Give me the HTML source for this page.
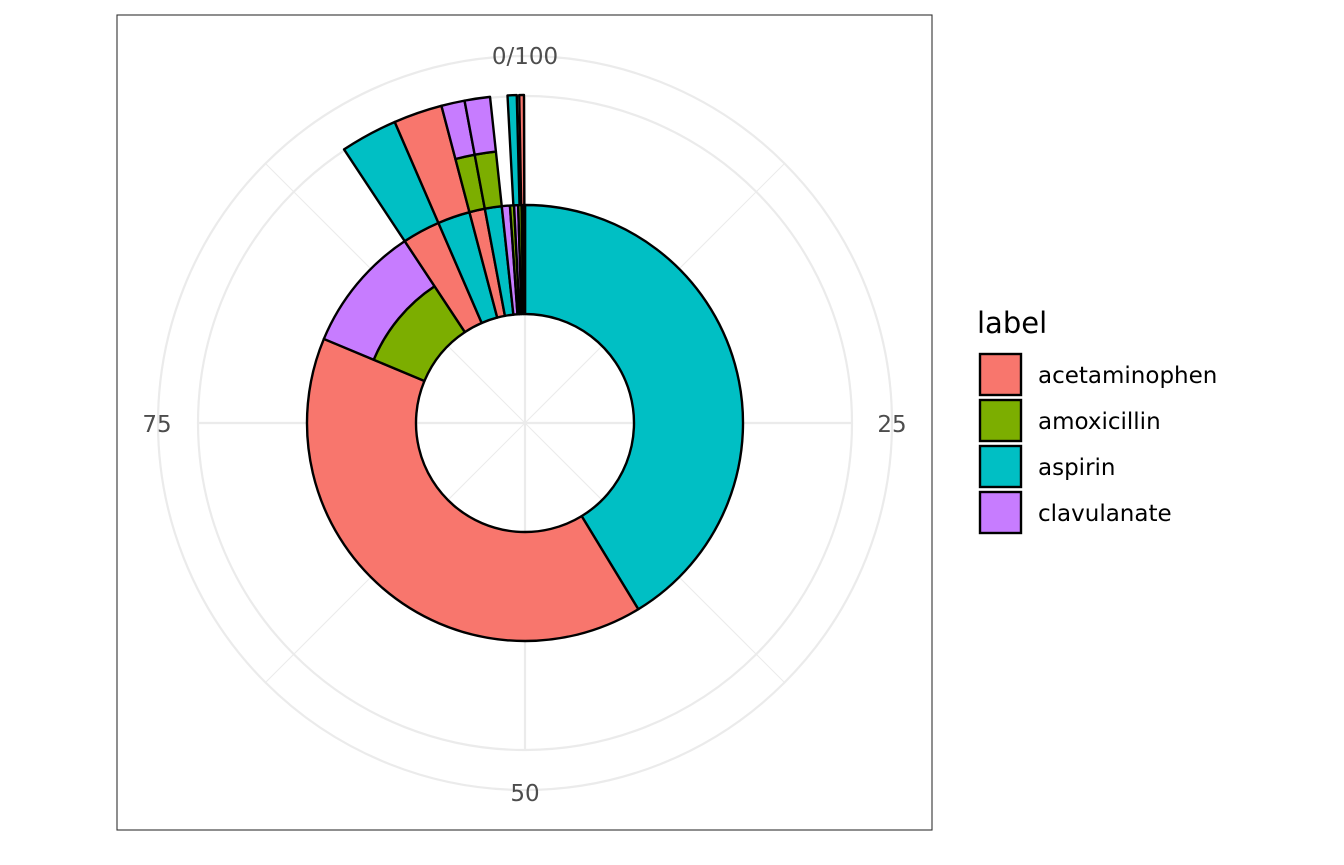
<!DOCTYPE html>
<html><head><meta charset="utf-8"><style>
html,body{margin:0;padding:0;background:#fff;}
svg{display:block;font-family:"DejaVu Sans","Liberation Sans",sans-serif;}
</style></head><body>
<svg id="s" width="1344" height="865" viewBox="0 0 1344 865" xmlns="http://www.w3.org/2000/svg">
<rect x="0" y="0" width="1344" height="865" fill="#fff"/>
<g id="grid" stroke="#ebebeb" fill="none"></g>
<g id="segs" stroke="#000" stroke-width="2.4" stroke-linejoin="round"></g>
<rect x="117" y="15" width="815" height="815" fill="none" stroke="#333" stroke-width="1.1"/>
<g font-size="23" fill="#4d4d4d" text-anchor="middle">
<text x="525" y="64">0/100</text>
<text x="892" y="432">25</text>
<text x="525" y="801">50</text>
<text x="157" y="432">75</text>
</g>
<text x="977" y="333" font-size="29" fill="#000">label</text>
<g stroke="#000" stroke-width="2.4">
<rect x="980" y="354" width="41" height="41" fill="#F8766D"/>
<rect x="980" y="400" width="41" height="41" fill="#7CAE00"/>
<rect x="980" y="446" width="41" height="41" fill="#00BFC4"/>
<rect x="980" y="492" width="41" height="41" fill="#C77CFF"/>
</g>
<g font-size="23" fill="#000">
<text x="1038" y="383">acetaminophen</text>
<text x="1038" y="429">amoxicillin</text>
<text x="1038" y="475">aspirin</text>
<text x="1038" y="521">clavulanate</text>
</g>
</svg>
<script>
var cx=525,cy=423,ns="http://www.w3.org/2000/svg";
function pt(r,p){var a=p*3.6*Math.PI/180;return [cx+r*Math.sin(a),cy-r*Math.cos(a)];}
function seg(r0,r1,p0,p1,col){
 var large=(p1-p0)>50?1:0;
 var a=pt(r1,p0),b=pt(r1,p1),c=pt(r0,p1),d=pt(r0,p0);
 var dstr="M"+a+" A"+r1+","+r1+" 0 "+large+" 1 "+b+" L"+c+" A"+r0+","+r0+" 0 "+large+" 0 "+d+" Z";
 var e=document.createElementNS(ns,"path");e.setAttribute("d",dstr);e.setAttribute("fill",col);
 document.getElementById("segs").appendChild(e);}
var g=document.getElementById("grid");
function circ(r,w){var e=document.createElementNS(ns,"circle");e.setAttribute("cx",cx);e.setAttribute("cy",cy);e.setAttribute("r",r);e.setAttribute("stroke-width",w);g.appendChild(e);}
function line(p,r,w){var q=pt(r,p);var e=document.createElementNS(ns,"line");e.setAttribute("x1",cx);e.setAttribute("y1",cy);e.setAttribute("x2",q[0]);e.setAttribute("y2",q[1]);e.setAttribute("stroke-width",w);g.appendChild(e);}
[12.5,37.5,62.5,87.5].forEach(function(p){line(p,367,1.1);});
[0,25,50,75].forEach(function(p){line(p,327,2.2);});
circ(327,2.2);circ(367,2.2);
var P="#F8766D",G="#7CAE00",A="#00BFC4",C="#C77CFF";
var R0=109,R1=164,R2=218,R3=273,R4=328;
seg(R0,R2,0,41.3,A);
seg(R0,R2,41.3,81.3,P);
seg(R0,R1,81.3,90.7,G);
seg(R1,R2,81.3,90.7,C);
seg(R0,R2,90.7,93.5,P);
seg(R0,R2,93.5,95.9,A);
seg(R0,R2,95.9,97.05,P);
seg(R0,R2,97.05,98.3,A);
seg(R0,R2,98.3,98.9,C);
seg(R0,R2,98.9,99.2,G);
seg(R0,R2,99.2,99.5,C);
seg(R0,R2,99.5,99.75,G);
seg(R0,R2,99.75,100,"#000");
seg(R2,R4,90.7,93.5,A);
seg(R2,R4,93.5,95.9,P);
seg(R2,R3,95.9,97.05,G);
seg(R3,R4,95.9,97.05,C);
seg(R2,R3,97.05,98.3,G);
seg(R3,R4,97.05,98.3,C);
seg(R2,R4,99.15,99.6,A);
seg(R2,R4,99.72,99.95,P);
</script>
</body></html>
